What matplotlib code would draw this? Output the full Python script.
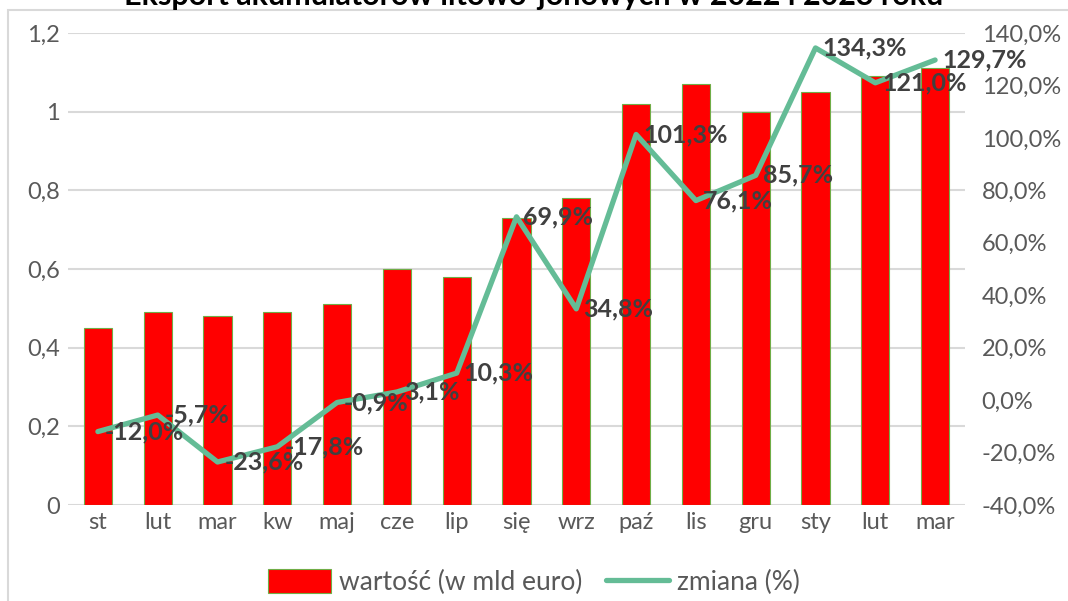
import matplotlib
matplotlib.use("Agg")
import matplotlib.pyplot as plt
from matplotlib.patches import Rectangle, Patch
from matplotlib.lines import Line2D
from matplotlib.ticker import FuncFormatter, MultipleLocator

plt.rcParams['font.family'] = ['Lato', 'DejaVu Sans']

# dane
miesiace = ["st", "lut", "mar", "kw", "maj", "cze", "lip", "się", "wrz",
            "paź", "lis", "gru", "sty", "lut", "mar"]
wartosc = [0.45, 0.49, 0.48, 0.49, 0.51, 0.60, 0.58, 0.73, 0.78,
           1.02, 1.07, 1.00, 1.05, 1.09, 1.11]
zmiana = [-12.0, -5.7, -23.6, -17.8, -0.9, 3.1, 10.3, 69.9, 34.8,
          101.3, 76.1, 85.7, 134.3, 121.0, 129.7]

tytul = "Eksport akumulatorów litowo-jonowych w 2022 i 2023 roku"

KOLOR_SLUPKA = "#FF0000"
KOLOR_LINII = "#64BC96"
SZARY = "#595959"

W, H = 1068, 601
fig = plt.figure(figsize=(W / 100, H / 100), dpi=100)
ax = fig.add_axes([68 / W, 1 - 505 / H, (965 - 68) / W, (505 - 33) / H])

x = list(range(len(miesiace)))
ax.bar(x, wartosc, width=0.47, color=KOLOR_SLUPKA, edgecolor="#70AD47",
       linewidth=0.8, zorder=2)
ax.set_xlim(-0.5, len(miesiace) - 0.5)
ax.set_ylim(0, 1.2)
ax.yaxis.set_major_locator(MultipleLocator(0.2))
ax.yaxis.set_major_formatter(FuncFormatter(
    lambda v, p: "0" if abs(v) < 1e-9 else (f"{v:.1f}".rstrip("0").rstrip(".")).replace(".", ",")))
ax.grid(axis="y", color="#D9D9D9", linewidth=1.5, zorder=0)
ax.set_axisbelow(True)
ax.set_xticks(x)
ax.set_xticklabels(miesiace)
ax.tick_params(axis="both", length=0, labelsize=17, labelcolor=SZARY)
ax.tick_params(axis="x", pad=5)
ax.tick_params(axis="y", pad=6)
for s in ax.spines.values():
    s.set_visible(False)

# oś prawa - zmiana
ax2 = ax.twinx()
ax2.plot(x, zmiana, color=KOLOR_LINII, linewidth=3.8, solid_capstyle="round",
         zorder=3)
ax2.set_ylim(-40, 140)
ax2.yaxis.set_major_locator(MultipleLocator(20))
ax2.yaxis.set_major_formatter(FuncFormatter(lambda v, p: f"{v:.1f}%".replace(".", ",")))
ax2.tick_params(axis="y", length=0, labelsize=17, labelcolor=SZARY, pad=12)
for s in ax2.spines.values():
    s.set_visible(False)

for xi, zi in zip(x, zmiana):
    ax2.annotate(f"{zi:.1f}%".replace(".", ","), (xi, zi), xytext=(5, 0),
                 textcoords="offset points", ha="left", va="center",
                 fontsize=18, fontweight="bold", color="#404040",
                 annotation_clip=False, zorder=5)

# tytuł (ucięty u góry, jak w oryginale)
fig.text(0.5, 1 - 5 / H, tytul, ha="center", va="baseline", fontsize=22,
         fontweight="bold", color="#000000")

# ramka wykresu
fig.patches.append(Rectangle((8 / W, -0.1), 1.2, 1 - 10 / H + 0.1,
                             transform=fig.transFigure, fill=False,
                             edgecolor="#D9D9D9", linewidth=1.5))

uchwyty = [Patch(facecolor=KOLOR_SLUPKA, edgecolor="#70AD47", linewidth=0.8),
           Line2D([0], [0], color=KOLOR_LINII, linewidth=3.8, solid_capstyle="round")]
fig.legend(uchwyty, ["wartość (w mld euro)", "zmiana (%)"], loc="center",
           bbox_to_anchor=(0.5, 1 - 582 / H), ncol=2, frameon=False,
           fontsize=19, labelcolor=SZARY, handlelength=2.4, handleheight=1.0,
           handletextpad=0.3, columnspacing=0.9)

fig.savefig("out.png", dpi=100)
